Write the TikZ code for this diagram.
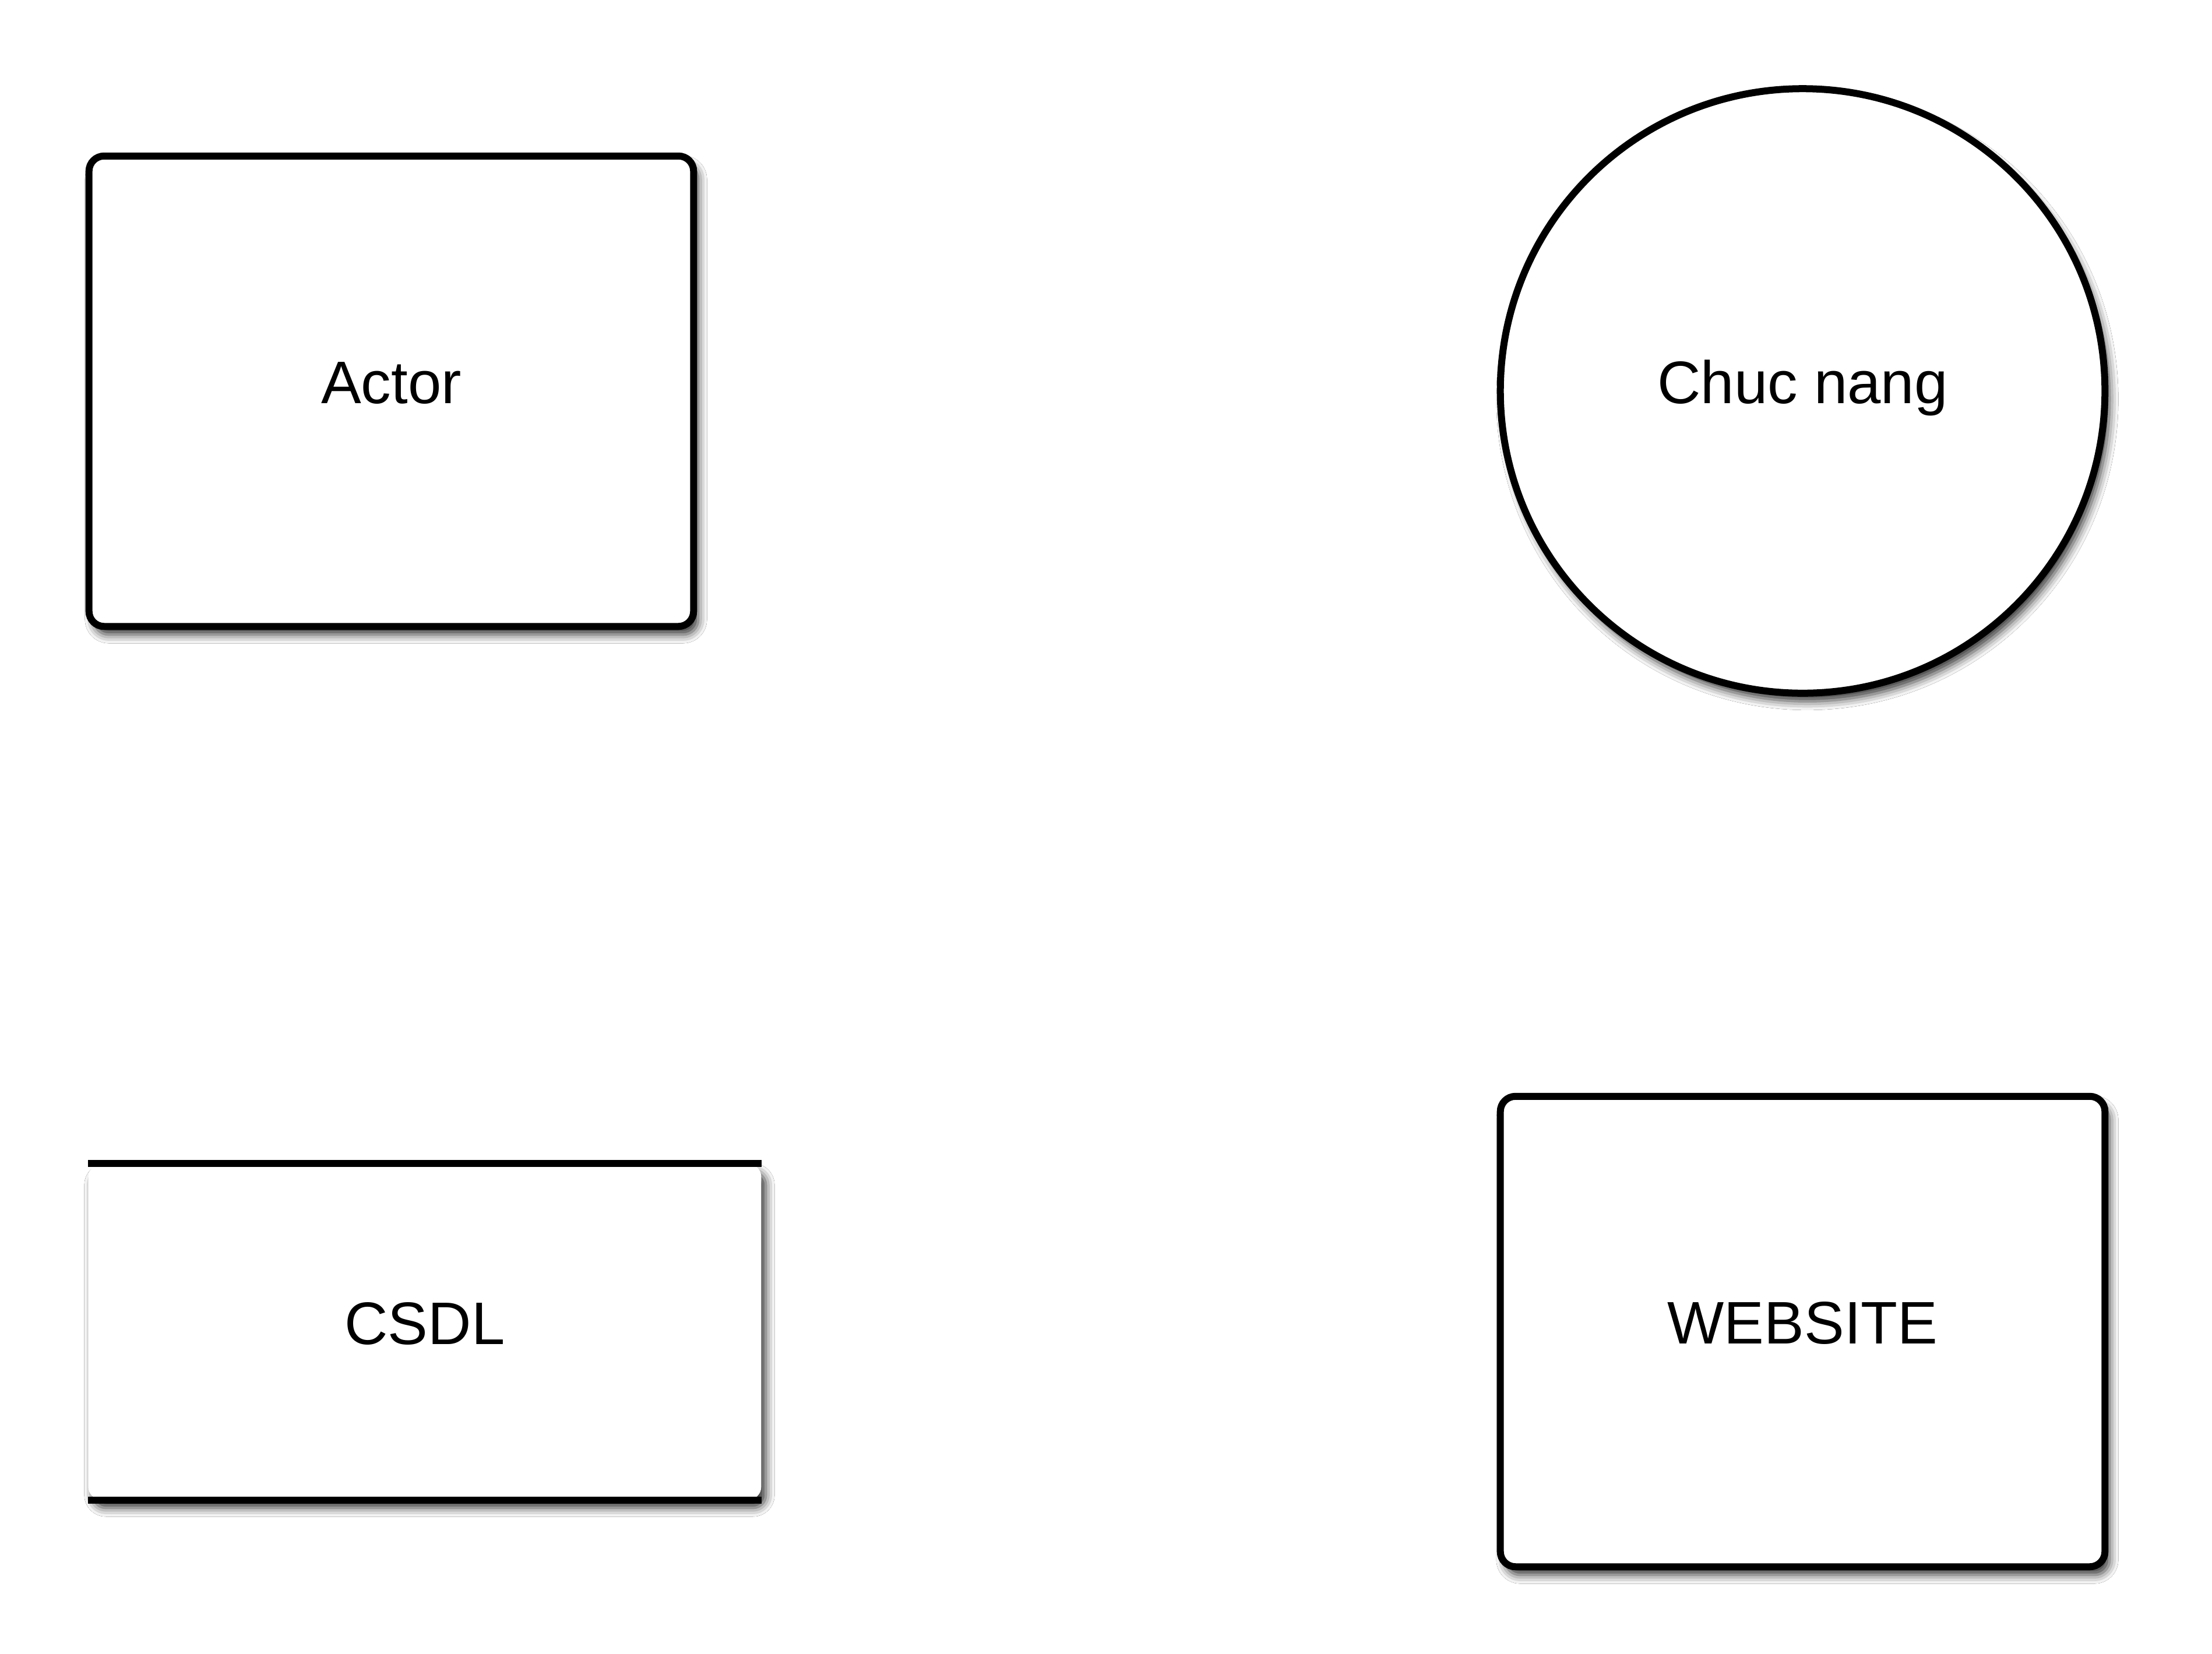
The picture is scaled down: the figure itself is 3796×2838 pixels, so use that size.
\documentclass[tikz,border=0pt]{standalone}
\usepackage{fontspec}
\setmainfont{Liberation Sans}
\usetikzlibrary{shadows.blur}
\begin{document}
\begin{tikzpicture}[x=0.01cm,y=-0.01cm,
  shapeshadow/.style={blur shadow={shadow xshift=0.08cm, shadow yshift=-0.14cm, shadow blur radius=0.15cm, shadow opacity=80}},
  lbl/.style={font=\fontsize{29.3pt}{35pt}\selectfont, text height=0.74cm, text depth=0.32cm, align=center, inner sep=0pt},
  rbox/.style={draw=black, line width=0.12cm, fill=white, rectangle, rounded corners=0.26cm, minimum width=10.37cm, minimum height=8.07cm, shapeshadow, lbl},
  cbox/.style={draw=black, line width=0.12cm, fill=white, circle, minimum size=10.37cm, shapeshadow, lbl},
  storebox/.style={draw=none, fill=white, rectangle, rounded corners=0.22cm, minimum width=11.54cm, minimum height=5.76cm, shapeshadow, lbl},
  storeline/.style={draw=black, line width=0.115cm}
]
\fill[white] (0,0) rectangle (3796,2838);
\useasboundingbox (0,0) rectangle (3796,2838);

\node[rbox] (actor) at (671.5,671.5) {Actor};
\node[cbox] (chucnang) at (3093.5,671) {Chuc nang};
\node[storebox] (csdl) at (729,2286) {CSDL};
\draw[storeline] (csdl.north west) -- (csdl.north east);
\draw[storeline] (csdl.south west) -- (csdl.south east);
\node[rbox] (website) at (3093.5,2285.5) {WEBSITE};
\end{tikzpicture}
\end{document}
